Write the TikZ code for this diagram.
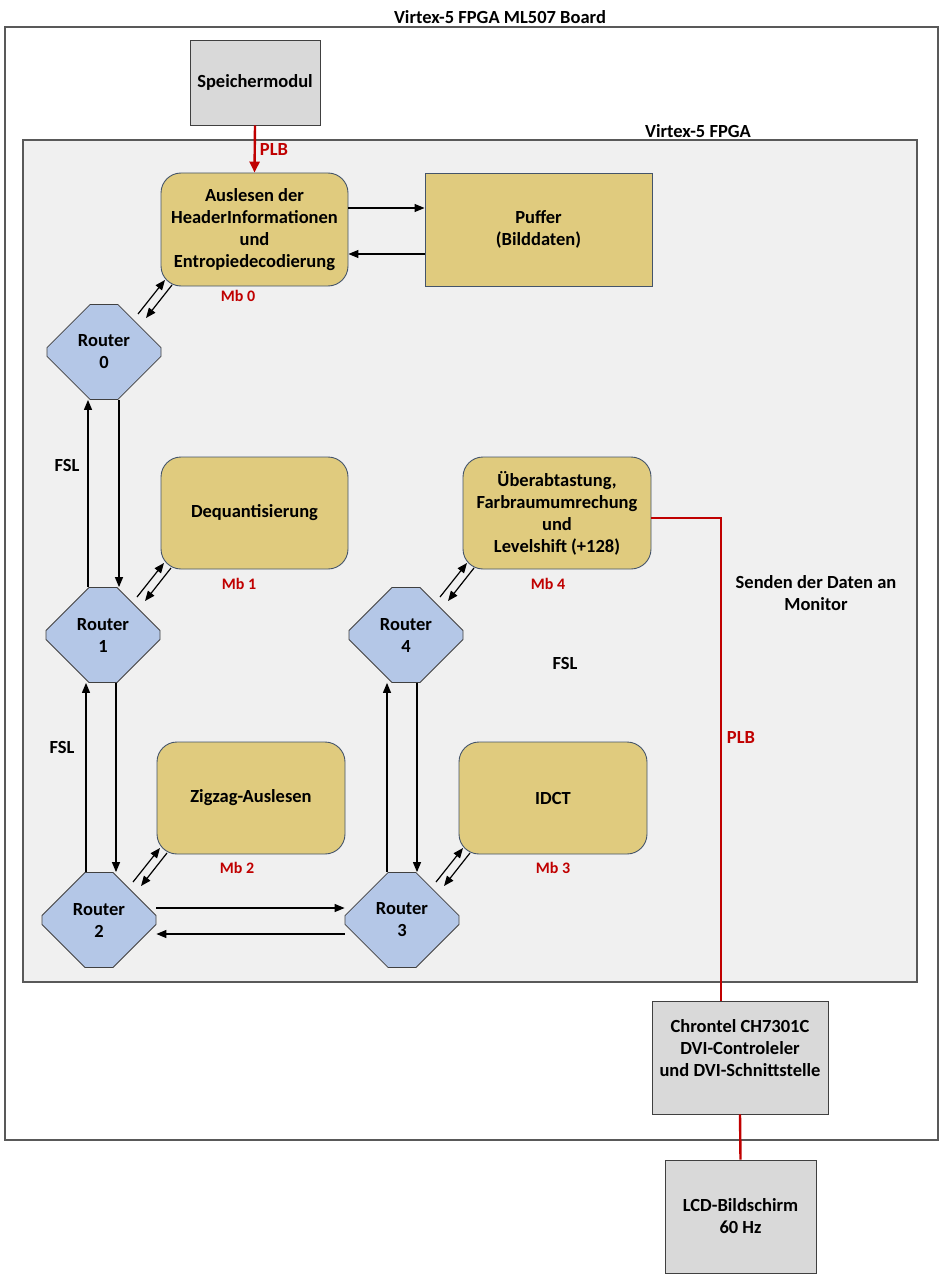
\documentclass[tikz,border=0pt]{standalone}
\usepackage{fontspec}
\setmainfont{Carlito}
\usetikzlibrary{shapes.misc,arrows.meta,calc}
\definecolor{goldfill}{HTML}{E0CB7E}
\definecolor{goldline}{HTML}{44546A}
\definecolor{routerfill}{HTML}{B4C7E7}
\definecolor{routerline}{HTML}{404040}
\definecolor{grayfill}{HTML}{D9D9D9}
\definecolor{grayline}{HTML}{404040}
\definecolor{fpgafill}{HTML}{F0F0F0}
\definecolor{boardline}{HTML}{595959}
\definecolor{plbred}{HTML}{C00000}
\begin{document}
\begin{tikzpicture}[x=1pt,y=-1pt,
  font=\fontsize{18.5}{22}\selectfont\bfseries,
  module/.style={draw=goldline, fill=goldfill, rounded corners=20pt, line width=0.9pt,
    minimum width=187pt, minimum height=112pt, inner sep=0pt, align=center},
  pufferbox/.style={draw=goldline, fill=goldfill, line width=0.9pt,
    minimum width=227pt, minimum height=113pt, inner sep=0pt, align=center},
  router/.style={chamfered rectangle, chamfered rectangle xsep=27pt, chamfered rectangle ysep=27pt,
    draw=routerline, fill=routerfill, line width=0.8pt,
    minimum width=114pt, minimum height=95pt, inner sep=0pt, align=center},
  graybox/.style={draw=grayline, fill=grayfill, line width=0.9pt, inner sep=0pt, align=center},
  mblabel/.style={text=plbred, font=\fontsize{16}{18}\selectfont\bfseries},
  plblabel/.style={text=plbred, font=\fontsize{18.5}{22}\selectfont\bfseries},
  arr/.style={-{Triangle[length=10pt,width=8pt]}, line width=1.2pt},
  plbline/.style={draw=plbred, line width=2.4pt},
  plbarrow/.style={plbline, -{Triangle[length=11pt,width=10pt]}}
]
\useasboundingbox[fill=white] (0,0) rectangle (944,1281);

% board and fpga
\node[draw=boardline, line width=1.3pt, minimum width=933pt, minimum height=1113pt, inner sep=0pt] (board) at (471.5,583.5) {};
\node (boardtitle) at (500,17) {Virtex-5 FPGA ML507 Board};
\node[draw=boardline, fill=fpgafill, line width=1.1pt, minimum width=894pt, minimum height=842pt, inner sep=0pt] (fpga) at (470,561) {};
\node (fpgatitle) at (698,131) {Virtex-5 FPGA};

% blocks
\node[graybox, minimum width=130pt, minimum height=85pt] (speicher) at (255,82.5) {Speichermodul};
\node[module, minimum height=113pt] (auslesen) at (254.5,229.5) {Auslesen der\\HeaderInformationen\\und\\Entropiedecodierung};
\node[pufferbox] (puffer) at (538.5,229.5) {Puffer\\(Bilddaten)};
\node[module] (dequant) at (254.5,513) {Dequantisierung};
\node[module, minimum width=188pt] (ueber) at (557,513) {Überabtastung,\\Farbraumumrechung\\und\\Levelshift (+128)};
\node[module, minimum width=188pt] (zigzag) at (251,798) {Zigzag-Auslesen};
\node[module, minimum width=188pt] (idct) at (553,798) {IDCT};

\node[router] (r0) at (104,352) {Router\\0};
\node[router] (r1) at (103,635) {Router\\1};
\node[router] (r2) at (99,920) {Router\\2};
\node[router] (r3) at (402,920) {Router\\3};
\node[router] (r4) at (406,635) {Router\\4};

\node[graybox, minimum width=176pt, minimum height=113pt] (chrontel) at (740,1057.5) {Chrontel CH7301C\\DVI-Controleler\\und DVI-Schnittstelle\\[-10pt]\strut};
\node[graybox, minimum width=151pt, minimum height=113pt] (lcd) at (740.5,1216.5) {LCD-Bildschirm\\60 Hz};

% labels
\node[mblabel] (mb0) at (238,296) {Mb 0};
\node[mblabel] (mb1) at (239,584) {Mb 1};
\node[mblabel] (mb2) at (237,868) {Mb 2};
\node[mblabel] (mb3) at (553,868) {Mb 3};
\node[mblabel] (mb4) at (548,584) {Mb 4};
\node (fsl1) at (67,465) {FSL};
\node (fsl2) at (62,747) {FSL};
\node (fsl3) at (565,663) {FSL};
\node[align=center] (senden) at (816,593) {Senden der Daten an\\Monitor};
\node[plblabel] (plb1) at (274,150) {PLB};
\node[plblabel] (plb2) at (741,737) {PLB};

% PLB connections
\draw[plbarrow] (speicher.south) -- (auslesen.north);
\coordinate (uex) at (651,518);
\coordinate (turn) at (721,518);
\draw[plbline] (uex) -- (turn) -- (turn |- chrontel.north);
\draw[plbline] (chrontel.south) -- (lcd.north);

% buffer arrows
\coordinate (ya) at (0,208);
\coordinate (yb) at (0,254);
\draw[arr] (auslesen.east |- ya) -- (puffer.west |- ya);
\draw[arr] (puffer.west |- yb) -- (auslesen.east |- yb);

% vertical router links
\coordinate (xa) at (88,0);
\coordinate (xb) at (119,0);
\coordinate (xc) at (86,0);
\coordinate (xd) at (116,0);
\coordinate (xe) at (387,0);
\coordinate (xf) at (417,0);
\draw[arr] (r1.north -| xa) -- (r0.south -| xa);
\draw[arr] (r0.south -| xb) -- (r1.north -| xb);
\draw[arr] (r2.north -| xc) -- (r1.south -| xc);
\draw[arr] (r1.south -| xd) -- (r2.north -| xd);
\draw[arr] (r3.north -| xe) -- (r4.south -| xe);
\draw[arr] (r4.south -| xf) -- (r3.north -| xf);

% horizontal router links
\coordinate (yc) at (0,908);
\coordinate (yd) at (0,934);
\draw[arr] (r2.east |- yc) -- (r3.west |- yc);
\draw[arr] (r3.west |- yd) -- (r2.east |- yd);

% router to module links
\foreach \r in {r0,r1,r2,r3,r4}{
  \draw[arr] ($(\r.center)+(34,-38)$) -- ($(\r.center)+(61,-72)$);
  \draw[arr] ($(\r.center)+(68,-67)$) -- ($(\r.center)+(42,-34)$);
}
\end{tikzpicture}
\end{document}
